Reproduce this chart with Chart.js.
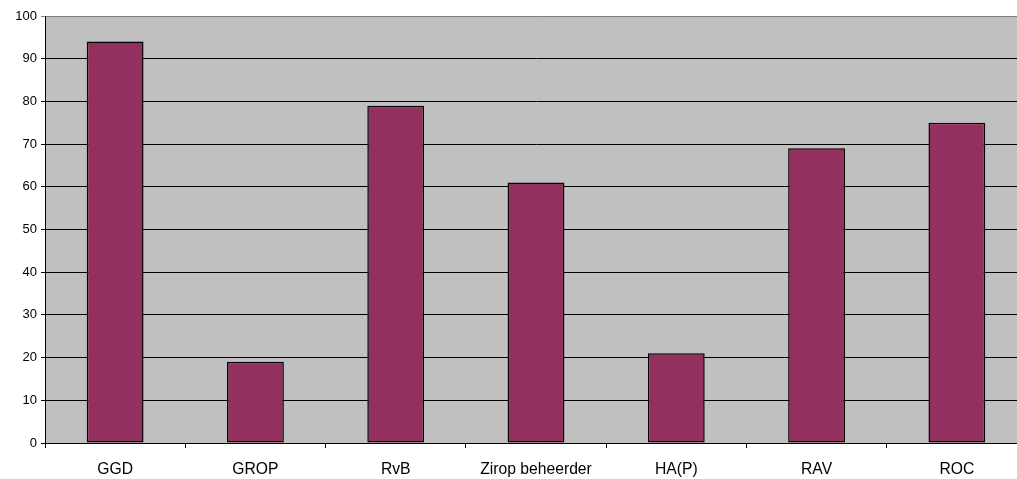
<!DOCTYPE html>
<html>
<head>
<meta charset="utf-8">
<script src="https://cdn.jsdelivr.net/npm/chart.js@4/dist/chart.umd.min.js"></script>
<style>
html,body{margin:0;padding:0;background:#fff;overflow:hidden;}
#wrap{width:1027px;height:479px;position:relative;}
</style>
</head>
<body>
<div id="wrap"><canvas id="c"></canvas></div>
<script>
const categories = ["GGD", "GROP", "RvB", "Zirop beheerder", "HA(P)", "RAV", "ROC"];
const values = [94, 19, 79, 61, 21, 69, 75];
const yTicks = [0, 10, 20, 30, 40, 50, 60, 70, 80, 90, 100];

const bgPlugin = {
  id: 'bg',
  beforeDraw(chart) {
    const {ctx, chartArea: a} = chart;
    ctx.save();
    ctx.fillStyle = '#C0C0C0';
    ctx.fillRect(a.left, a.top, a.right - a.left, a.bottom - a.top);
    ctx.restore();
  }
};

new Chart(document.getElementById('c'), {
  type: 'bar',
  data: {
    labels: categories,
    datasets: [{
      data: values,
      backgroundColor: '#94305F',
      borderColor: '#000000',
      borderWidth: 1.5,
      borderSkipped: false,
      categoryPercentage: 1,
      barPercentage: 0.405
    }]
  },
  options: {
    responsive: true,
    maintainAspectRatio: false,
    animation: false,
    layout: {padding: {top: 16, right: 0, left: 0, bottom: 0}},
    plugins: {legend: {display: false}, tooltip: {enabled: false}},
    scales: {
      x: {
        offset: true,
        grid: {offset: true, drawOnChartArea: false, drawTicks: true, tickLength: 5, color: '#000'},
        border: {display: true, color: '#000', width: 1},
        ticks: {color: '#000', font: {family: 'Liberation Sans, Arial, sans-serif', size: 15.7}, padding: 12, maxRotation: 0, autoSkip: false},
        afterFit(s) { s.height = 36; }
      },
      y: {
        min: 0, max: 100,
        afterBuildTicks(s) { s.ticks = yTicks.map(v => ({value: v})); },
        grid: {
          color: (c) => c.tick && c.tick.value === 100 ? '#808080' : '#000',
          lineWidth: 1,
          tickLength: 4,
          drawTicks: true
        },
        border: {display: true, color: '#000', width: 1},
        ticks: {color: '#000', font: {family: 'Liberation Sans, Arial, sans-serif', size: 13}, padding: 4},
        afterFit(s) { s.width = 45; }
      }
    }
  },
  plugins: [bgPlugin]
});
</script>
</body>
</html>
